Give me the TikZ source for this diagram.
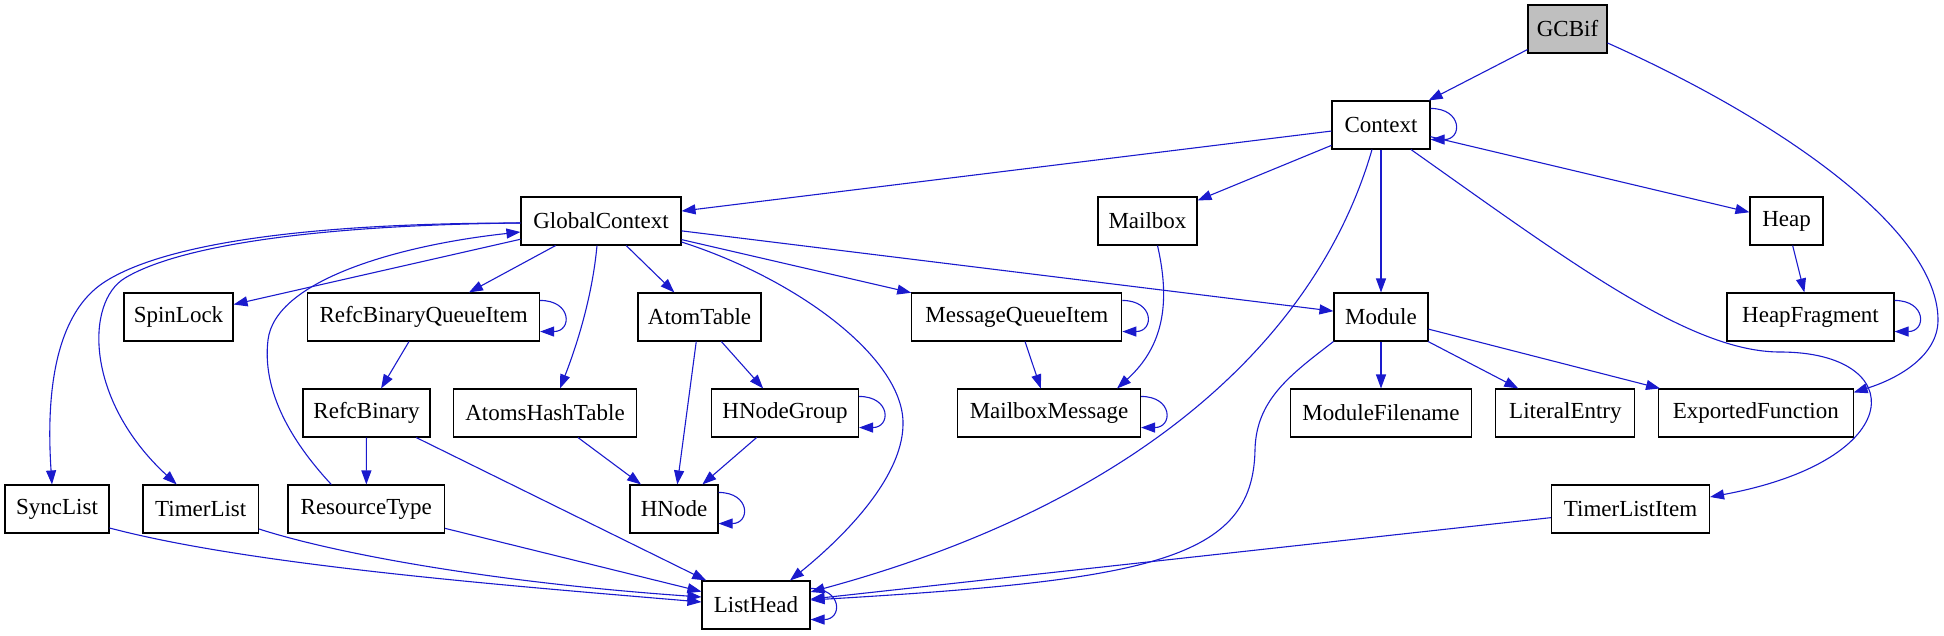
\documentclass[tikz,border=0pt]{standalone}
\usepackage{fontspec}
\setmainfont{Liberation Serif}
\usetikzlibrary{arrows.meta}
\definecolor{edgeblue}{RGB}{26,26,205}
\definecolor{gcfill}{RGB}{191,191,191}
\begin{document}
\begin{tikzpicture}[x=1pt,y=-1pt,
  box/.style={draw=black, fill=white, line width=1.1pt, minimum height=48pt, inner sep=0pt, font=\fontsize{23}{27}\selectfont},
  edge/.style={draw=edgeblue, line width=1.1pt, -{Triangle[length=14pt,width=10pt]}}]
\useasboundingbox (0,0) rectangle (1944,635);

\node[box, minimum width=79pt, fill=gcfill] (GCBif) at (1567.5,29) {GCBif};
\node[box, minimum width=98pt] (Context) at (1381,125) {Context};
\node[box, minimum width=160pt] (GlobalContext) at (601,221) {GlobalContext};
\node[box, minimum width=99pt] (Mailbox) at (1147.5,221) {Mailbox};
\node[box, minimum width=73pt] (Heap) at (1786.5,221) {Heap};
\node[box, minimum width=109pt] (SpinLock) at (178.5,317) {SpinLock};
\node[box, minimum width=232pt] (RefcBinaryQueueItem) at (423.6,317) {RefcBinaryQueueItem};
\node[box, minimum width=123pt] (AtomTable) at (699.5,317) {AtomTable};
\node[box, minimum width=210pt] (MessageQueueItem) at (1016.8,317) {MessageQueueItem};
\node[box, minimum width=94pt] (Module) at (1381,317) {Module};
\node[box, minimum width=167pt] (HeapFragment) at (1810.5,317) {HeapFragment};
\node[box, minimum width=127pt] (RefcBinary) at (366.5,413) {RefcBinary};
\node[box, minimum width=183pt] (AtomsHashTable) at (545,413) {AtomsHashTable};
\node[box, minimum width=147pt] (HNodeGroup) at (785,413) {HNodeGroup};
\node[box, minimum width=183pt] (MailboxMessage) at (1049,413) {MailboxMessage};
\node[box, minimum width=181pt] (ModuleFilename) at (1381,413) {ModuleFilename};
\node[box, minimum width=139pt] (LiteralEntry) at (1565.4,413) {LiteralEntry};
\node[box, minimum width=194.5pt] (ExportedFunction) at (1755.8,413) {ExportedFunction};
\node[box, minimum width=104pt] (SyncList) at (57,509) {SyncList};
\node[box, minimum width=115.5pt] (TimerList) at (200.7,509) {TimerList};
\node[box, minimum width=156.6pt] (ResourceType) at (366.3,509) {ResourceType};
\node[box, minimum width=88pt] (HNode) at (674,509) {HNode};
\node[box, minimum width=158pt] (TimerListItem) at (1630.5,509) {TimerListItem};
\node[box, minimum width=108pt] (ListHead) at (756,605) {ListHead};

% straight edges
\draw[edge] (GCBif) -- (Context);
\draw[edge] (Context) -- (GlobalContext);
\draw[edge] (Context) -- (Mailbox);
\draw[edge] (Context) -- (Heap);
\draw[edge] (Context) -- (Module);
\draw[edge] (Heap) -- (HeapFragment);
\draw[edge] (MessageQueueItem) -- (MailboxMessage);
\draw[edge] (GlobalContext) -- (SpinLock);
\draw[edge] (GlobalContext) -- (RefcBinaryQueueItem);
\draw[edge] (GlobalContext) -- (AtomTable);
\draw[edge] (GlobalContext) -- (MessageQueueItem);
\draw[edge] (GlobalContext) -- (Module);
\draw[edge] (RefcBinaryQueueItem) -- (RefcBinary);
\draw[edge] (RefcBinary) -- (ResourceType);
\draw[edge] (RefcBinary) -- (ListHead);
\draw[edge] (AtomsHashTable) -- (HNode);
\draw[edge] (AtomTable) -- (HNode);
\draw[edge] (AtomTable) -- (HNodeGroup);
\draw[edge] (HNodeGroup) -- (HNode);
\draw[edge] (Module) -- (ModuleFilename);
\draw[edge] (Module) -- (LiteralEntry);
\draw[edge] (Module) -- (ExportedFunction);
\draw[edge] (TimerListItem) -- (ListHead);
\draw[edge] (ResourceType) -- (ListHead);

% curved edges
\draw[edge] ([xshift=-4pt]GlobalContext.south) .. controls (592,300) and (575,350) .. ([xshift=15pt]AtomsHashTable.north);
\draw[edge] ([yshift=-14pt]GCBif.east) .. controls (1780,120) and (1938,230) .. (1938,320)
  .. controls (1938,355) and (1900,378) .. ([yshift=-4pt]ExportedFunction.north east);
\draw[edge] ([xshift=-9pt]Context.south) .. controls (1320,330) and (1150,500) .. ([yshift=13pt]ListHead.east);
\draw[edge] ([xshift=30pt]Context.south) .. controls (1570,262) and (1690,352) .. (1780,352)
  .. controls (1910,352) and (1910,460) .. ([yshift=12pt]TimerListItem.east);
\draw[edge] ([xshift=10pt]Mailbox.south) .. controls (1170,300) and (1165,345) .. ([xshift=-24pt]MailboxMessage.north east);
\draw[edge] ([yshift=-21pt]GlobalContext.east) .. controls (800,280) and (905,360) .. (903,425)
  .. controls (902,480) and (840,540) .. ([xshift=34pt]ListHead.north);
\draw[edge] ([yshift=-2pt]GlobalContext.west) .. controls (300,223) and (160,245) .. (103,283)
  .. controls (60,312) and (45,380) .. ([xshift=-5pt]SyncList.north);
\draw[edge] ([yshift=-2pt]GlobalContext.west) .. controls (320,225) and (180,245) .. (125,278)
  .. controls (85,302) and (85,400) .. ([xshift=-24pt]TimerList.north);
\draw[edge] ([xshift=-35pt]ResourceType.north) .. controls (290,440) and (262,390) .. (268,340)
  .. controls (275,280) and (400,245) .. ([yshift=-11pt]GlobalContext.west);
\draw[edge] (Module.south west) .. controls (1290,375) and (1256,400) .. (1255,450)
  .. controls (1253,560) and (1150,580) .. ([yshift=5pt]ListHead.east);
\draw[edge] ([yshift=-19pt]SyncList.east) .. controls (250,565) and (500,585) .. ([yshift=3pt]ListHead.west);
\draw[edge] ([yshift=-20pt]TimerList.east) .. controls (340,555) and (500,583) .. ([yshift=8pt]ListHead.west);

% self loops
\foreach \n in {Context,RefcBinaryQueueItem,MessageQueueItem,MailboxMessage,HeapFragment,HNodeGroup,HNode,ListHead}{
  \draw[edge] ([yshift=-8pt]\n.north east) .. controls +(32,0) and +(32,0) .. ([yshift=10pt]\n.south east);
}
\end{tikzpicture}
\end{document}
